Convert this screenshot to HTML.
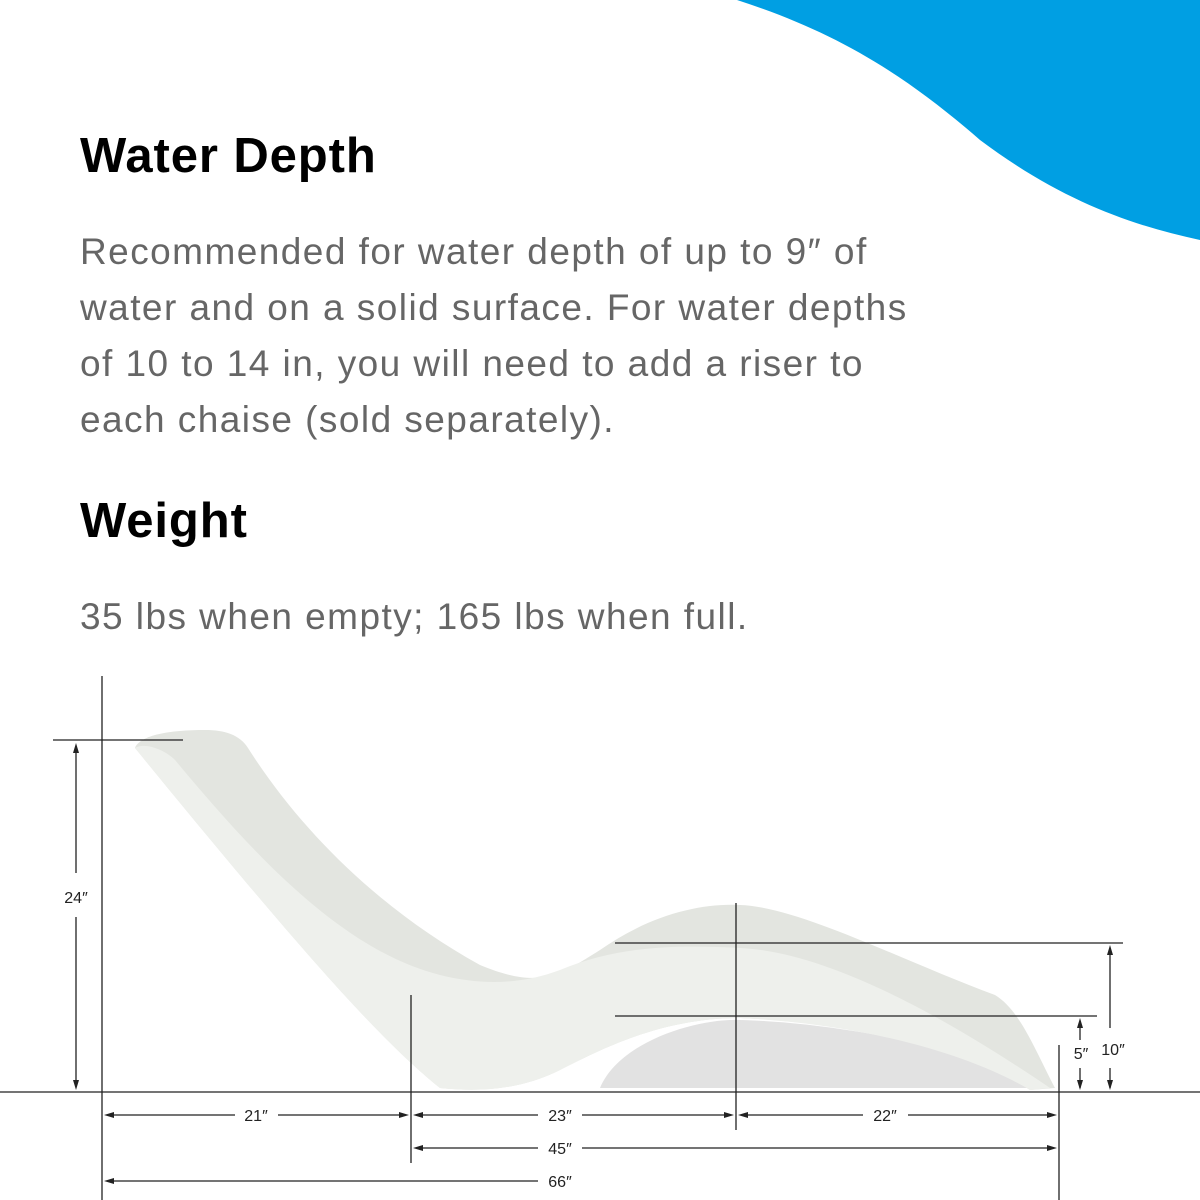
<!DOCTYPE html>
<html><head><meta charset="utf-8"><style>
html,body{margin:0;padding:0;background:#fff;width:1200px;height:1200px;overflow:hidden;position:relative;font-family:"Liberation Sans",sans-serif}
h2{position:absolute;left:80px;margin:0;font-size:49px;font-weight:bold;color:#000;letter-spacing:0.9px}
p{position:absolute;left:80px;margin:0;font-size:37px;color:#666;line-height:56px;width:1100px;letter-spacing:1.45px}
svg{position:absolute;left:0;top:0}
</style></head><body>
<svg width="1200" height="1200" viewBox="0 0 1200 1200">
<path d="M737 0 C830 30 900 70 980 140 C1060 200 1130 225 1200 240 L1200 0 Z" fill="#009FE3"/>
<path d="M600 1088 C620 1040 700 1018 740 1020 C820 1022 960 1042 1035 1088 Z" fill="#e2e2e2"/>
<path d="M135 748 C140 735 170 730 205 730 C225 730 240 735 248 748 C300 830 380 910 480 965 C540 990 560 975 600 950 C650 915 700 903 740 905 C800 907 900 960 995 995 C1020 1010 1035 1050 1055 1088 L1030 1090 C1000 1070 900 1025 740 1018 C660 1018 600 1050 560 1070 C520 1090 480 1092 440 1088 C380 1040 300 950 135 748 Z" fill="#e3e5e0"/>
<path d="M135 748 C145 742 165 750 175 760 C250 850 340 950 440 975 C480 985 520 985 560 970 C620 945 680 945 740 948 C830 952 950 1020 1050 1088 L1030 1090 C980 1060 880 1025 740 1018 C660 1018 600 1050 560 1070 C520 1090 480 1092 440 1088 C380 1040 300 950 135 748 Z" fill="#eef0ec"/>
<g stroke="#222" stroke-width="1.3" fill="none">
<line x1="102" y1="676" x2="102" y2="1200"/>
<line x1="0" y1="1092" x2="1200" y2="1092"/>
<line x1="53" y1="740" x2="183" y2="740"/>
<line x1="76" y1="748" x2="76" y2="873"/>
<line x1="76" y1="917" x2="76" y2="1085"/>
<line x1="411" y1="995" x2="411" y2="1163"/>
<line x1="736" y1="903" x2="736" y2="1130"/>
<line x1="1059" y1="1045" x2="1059" y2="1200"/>
<line x1="615" y1="943" x2="1123" y2="943"/>
<line x1="615" y1="1016" x2="1097" y2="1016"/>
<line x1="1110" y1="950" x2="1110" y2="1028"/>
<line x1="1110" y1="1068" x2="1110" y2="1088"/>
<line x1="1080" y1="1024" x2="1080" y2="1040"/>
<line x1="1080" y1="1068" x2="1080" y2="1088"/>
<line x1="108" y1="1115" x2="235" y2="1115"/>
<line x1="278" y1="1115" x2="405" y2="1115"/>
<line x1="417" y1="1115" x2="538" y2="1115"/>
<line x1="582" y1="1115" x2="730" y2="1115"/>
<line x1="742" y1="1115" x2="863" y2="1115"/>
<line x1="908" y1="1115" x2="1053" y2="1115"/>
<line x1="417" y1="1148" x2="538" y2="1148"/>
<line x1="582" y1="1148" x2="1053" y2="1148"/>
<line x1="108" y1="1181" x2="538" y2="1181"/>
</g>
<g fill="#222">
<path d="M76 743 l-3 10 h6z"/><path d="M76 1090 l-3 -10 h6z"/>
<path d="M1110 945 l-3 10 h6z"/><path d="M1110 1090 l-3 -10 h6z"/>
<path d="M1080 1018 l-3 10 h6z"/><path d="M1080 1090 l-3 -10 h6z"/>
<path d="M104 1115 l10 -3 v6z"/><path d="M409 1115 l-10 -3 v6z"/><path d="M413 1115 l10 -3 v6z"/>
<path d="M734 1115 l-10 -3 v6z"/><path d="M738 1115 l10 -3 v6z"/><path d="M1057 1115 l-10 -3 v6z"/>
<path d="M413 1148 l10 -3 v6z"/><path d="M1057 1148 l-10 -3 v6z"/>
<path d="M104 1181 l10 -3 v6z"/>
</g>
<g font-family="Liberation Sans, sans-serif" font-size="16" fill="#222" text-anchor="middle">
<text x="76" y="903">24″</text>
<text x="256" y="1121">21″</text>
<text x="560" y="1121">23″</text>
<text x="885" y="1121">22″</text>
<text x="560" y="1154">45″</text>
<text x="560" y="1187">66″</text>
<text x="1081" y="1059">5″</text>
<text x="1113" y="1055">10″</text>
</g>
</svg>
<h2 style="top:128px">Water Depth</h2>
<p style="top:224px">Recommended for water depth of up to 9″ of<br>water and on a solid surface. For water depths<br>of 10 to 14 in, you will need to add a riser to<br>each chaise (sold separately).</p>
<h2 style="top:493px">Weight</h2>
<p style="top:589px">35 lbs when empty; 165 lbs when full.</p>
</body></html>
